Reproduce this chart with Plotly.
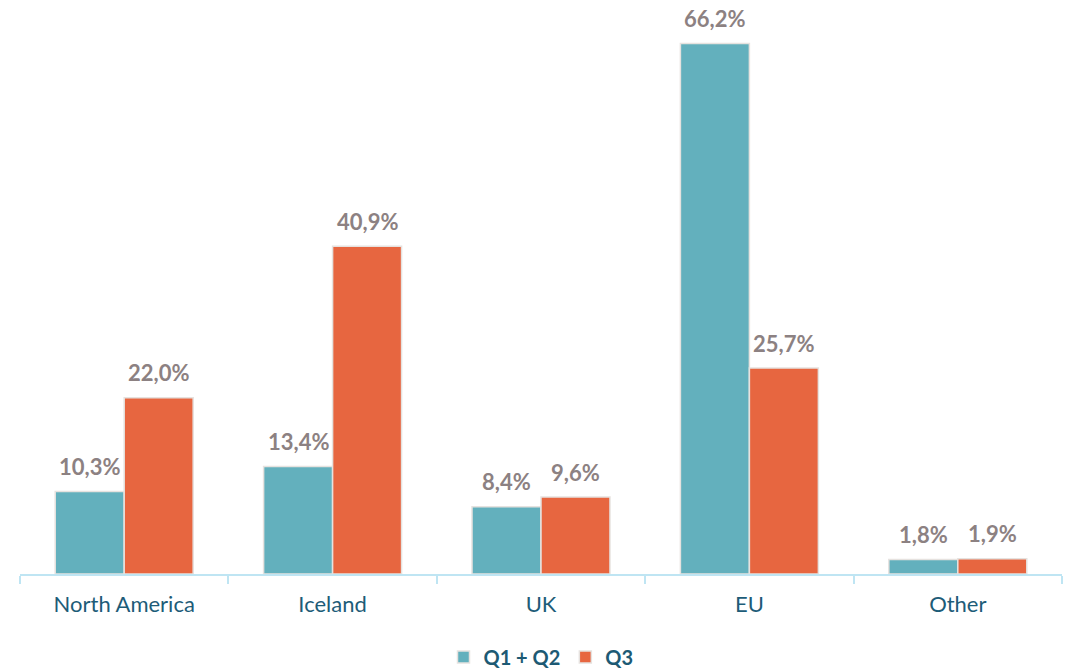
import plotly.graph_objects as go

categories = ["North America", "Iceland", "UK", "EU", "Other"]
series_names = ["Q1 + Q2", "Q3"]
q12_values = [10.3, 13.4, 8.4, 66.2, 1.8]
q3_values = [22.0, 40.9, 9.6, 25.7, 1.9]

colors = ["#63b0bd", "#e76640"]
FONT = "Lato"

W, H = 1071, 669
ML, MR, MT, MB = 20, 9, 13, 95
bargap = 0.338
plot_w = W - ML - MR
bar_px = plot_w / len(categories) * (1 - bargap) / 2

fig = go.Figure()
for name, vals, col in zip(series_names, [q12_values, q3_values], colors):
    fig.add_trace(go.Bar(
        x=categories, y=vals, name=name,
        marker=dict(color=col, line=dict(color="#e6e2df", width=1.5)),
    ))

def fmt(v):
    return f"{v:.1f}%".replace(".", ",")

for i, vals in enumerate([q12_values, q3_values]):
    shift = (-0.5 if i == 0 else 0.5) * bar_px
    for c, v in zip(categories, vals):
        fig.add_annotation(
            x=c, y=v, text=fmt(v), showarrow=False,
            xshift=shift, yshift=25, yanchor="middle",
            font=dict(family=FONT, size=22, color="#8c8182", weight="bold"),
        )

fig.update_layout(
    width=W, height=H,
    margin=dict(l=ML, r=MR, t=MT, b=MB, autoexpand=False),
    paper_bgcolor="white", plot_bgcolor="white",
    barmode="group", bargap=bargap, bargroupgap=0,
    showlegend=True,
    legend=dict(orientation="h", x=0.5, xanchor="center", y=-0.148, yanchor="middle",
                font=dict(family=FONT, size=20, color="#1d5a74", weight="bold"),
                itemwidth=30, traceorder="normal"),
    xaxis=dict(
        automargin=False,
        showline=True, linecolor="#bfe5f3", linewidth=2,
        ticks="outside", tickson="boundaries", tickcolor="#bfe5f3", ticklen=8, tickwidth=1.5,
        ticklabelstandoff=10,
        tickfont=dict(family=FONT, size=22, color="#1d5c78"),
        showgrid=False,
    ),
    yaxis=dict(range=[0, 70], visible=False, showgrid=False, zeroline=False, automargin=False),
)

fig.write_html(
    "out.html",
    config={"displayModeBar": False},
    post_script="document.body.style.margin='0';document.body.style.overflow='hidden';",
)
